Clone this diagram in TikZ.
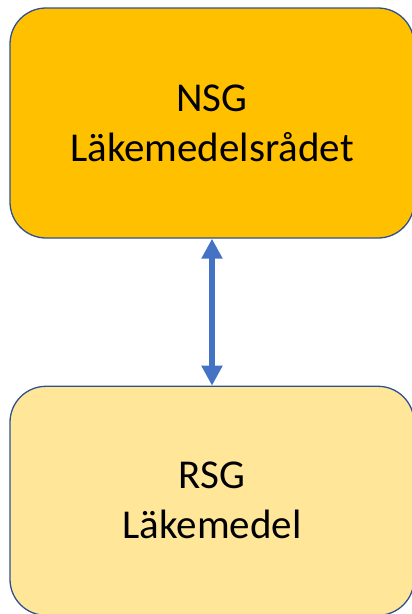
\documentclass[tikz,border=0pt]{standalone}
\usepackage{fontspec}
\setmainfont{Carlito}
\usepackage{xcolor}
\usetikzlibrary{arrows.meta, positioning}

\definecolor{nsgfill}{HTML}{FFC000}
\definecolor{rsgfill}{HTML}{FFE699}
\definecolor{boxline}{HTML}{2F528F}
\definecolor{arrblue}{HTML}{4472C4}

\begin{document}
\begin{tikzpicture}[
  x=1pt, y=1pt,
  node distance=147pt,
  font=\fontsize{41}{50}\selectfont,
  group/.style={draw=boxline, line width=1.3pt, rounded corners=36pt, align=center,
                minimum width=404pt, inner sep=0pt},
  arr/.style={{Triangle[length=20pt,width=20pt]}-{Triangle[length=20pt,width=20pt]},
              draw=arrblue, fill=arrblue, line width=6pt}
]
\useasboundingbox (0,0) rectangle (412,-614);
\node[group, fill=nsgfill, minimum height=230pt] (nsg) at (212,-123) {NSG\\Läkemedelsrådet};
\node[group, fill=rsgfill, minimum height=229pt, below=of nsg] (rsg) {RSG\\Läkemedel};

\draw[arr] (nsg) -- (rsg);
\end{tikzpicture}
\end{document}
